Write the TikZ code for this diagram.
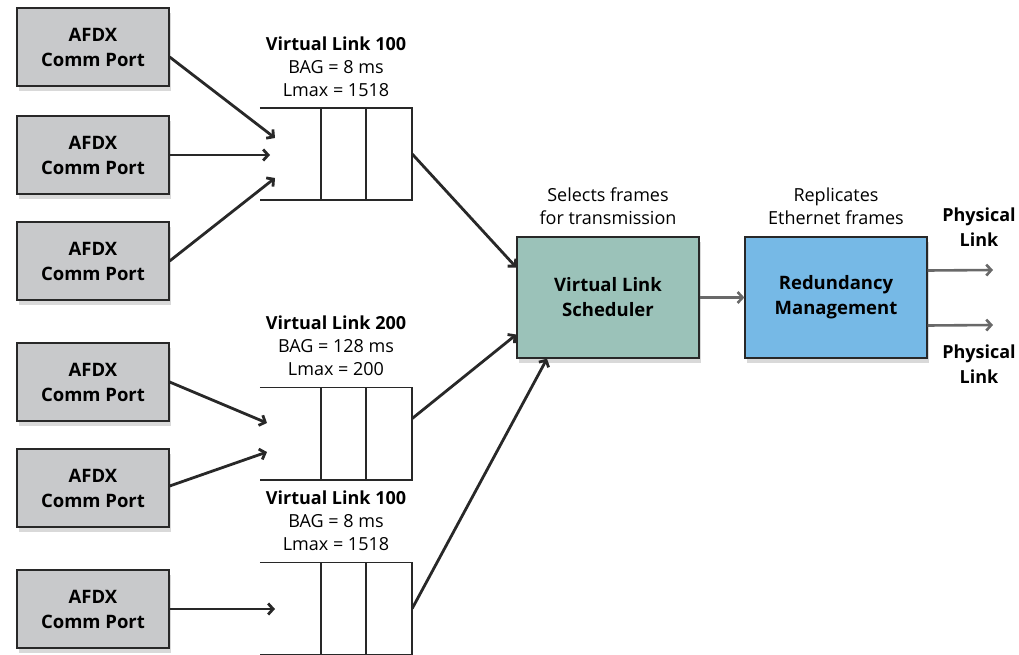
\documentclass[tikz,border=0pt]{standalone}
\usepackage{fontspec}
\setmainfont{Open Sans}
\usetikzlibrary{arrows.meta,shadows,positioning}

\definecolor{portgray}{RGB}{200,201,203}
\definecolor{schedteal}{RGB}{155,194,185}
\definecolor{redunblue}{RGB}{118,185,230}
\definecolor{edgegray}{RGB}{40,40,40}
\definecolor{linkgray}{RGB}{105,105,105}

\begin{document}
\begin{tikzpicture}[x=1pt, y=-1pt,
  port/.style = {draw=edgegray, line width=1.3pt, fill=portgray, minimum width=152pt, minimum height=78pt, align=center, font=\fontsize{18.5}{25}\selectfont\bfseries, drop shadow={shadow xshift=2pt, shadow yshift=-5pt, opacity=0.3}},
  block/.style = {draw=edgegray, line width=1.3pt, minimum width=182pt, minimum height=121pt, align=center, font=\fontsize{18.5}{25}\selectfont\bfseries, drop shadow={shadow xshift=2pt, shadow yshift=-5pt, opacity=0.3}},
  queue/.style = {minimum width=152pt, minimum height=92pt, inner sep=0pt},
  vlabel/.style = {align=center, font=\fontsize{18}{23}\selectfont, inner sep=2pt},
  feed/.style = {-{Straight Barb[length=5pt,width=11pt]}, line width=2.8pt, edgegray},
  link/.style = {-{Straight Barb[length=5pt,width=11pt]}, line width=2.6pt, linkgray}]
\useasboundingbox (0,0) rectangle (1019,655);

% comm ports
\node[port] (p1) at (93,47) {AFDX\\Comm Port};
\node[port] (p2) at (93,155) {AFDX\\Comm Port};
\node[port] (p3) at (93,261) {AFDX\\Comm Port};
\node[port] (p4) at (93,382) {AFDX\\Comm Port};
\node[port] (p5) at (93,488) {AFDX\\Comm Port};
\node[port] (p6) at (93,609) {AFDX\\Comm Port};

% virtual link queues
\node[queue] (q1) at (336,154) {};
\node[queue] (q2) at (336,433.5) {};
\node[queue] (q3) at (336,608.5) {};
\foreach \q in {q1,q2,q3} {
  \draw[edgegray, line width=1.6pt] (\q.north west) -- (\q.north east) -- (\q.south east) -- (\q.south west);
  \draw[edgegray, line width=1.6pt] ([xshift=61pt]\q.north west) -- ([xshift=61pt]\q.south west);
  \draw[edgegray, line width=1.6pt] ([xshift=106pt]\q.north west) -- ([xshift=106pt]\q.south west);
}
\node[vlabel, above=9pt of q1] (vl1) {\textbf{Virtual Link 100}\\BAG = 8 ms\\Lmax = 1518};
\node[vlabel, above=9pt of q2] (vl2) {\textbf{Virtual Link 200}\\BAG = 128 ms\\Lmax = 200};
\node[vlabel, above=9pt of q3] (vl3) {\textbf{Virtual Link 100}\\BAG = 8 ms\\Lmax = 1518};

% queue entries
\coordinate (in1a) at (275,138);
\coordinate (in1b) at (270,155);
\coordinate (in1c) at (275,178);
\coordinate (in2a) at (267,423);
\coordinate (in2b) at (267,452);
\coordinate (in3a) at (275,609);

% scheduler and redundancy
\node[block, fill=schedteal] (sched) at (608,297.5) {Virtual Link\\Scheduler};
\node[block, fill=redunblue] (redun) at (836,297.5) {Redundancy\\Management};
\node[vlabel, above=9pt of sched] (selt) {Selects frames\\for transmission};
\node[vlabel, above=9pt of redun] (rept) {Replicates\\Ethernet frames};

% physical links
\coordinate (phy1) at (993,270);
\coordinate (phy2) at (993,325);
\node[vlabel, font=\fontsize{18}{25}\selectfont\bfseries] (pl1) at (979,227.5) {Physical\\Link};
\node[vlabel, font=\fontsize{18}{25}\selectfont\bfseries] (pl2) at (979,364.5) {Physical\\Link};

\draw[feed] ([yshift=-10pt]p1.east) -- (in1a);
\draw[feed] (p2.east) -- (in1b);
\draw[feed] (p3.east) -- (in1c);
\draw[feed] (p4.east) -- (in2a);
\draw[feed] ([yshift=2pt]p5.east) -- (in2b);
\draw[feed] (p6.east) -- (in3a);

\draw[feed] (q1.east) -- ([yshift=30pt]sched.west);
\draw[feed] ([yshift=15pt]q2.east) -- ([yshift=-37pt]sched.west);
\draw[feed] (q3.east) -- ([xshift=-61pt]sched.south);

\draw[link] (sched.east) -- (redun.west);
\draw[link] ([yshift=27pt]redun.east) -- (phy1);
\draw[link] ([yshift=-28pt]redun.east) -- (phy2);
\end{tikzpicture}
\end{document}
